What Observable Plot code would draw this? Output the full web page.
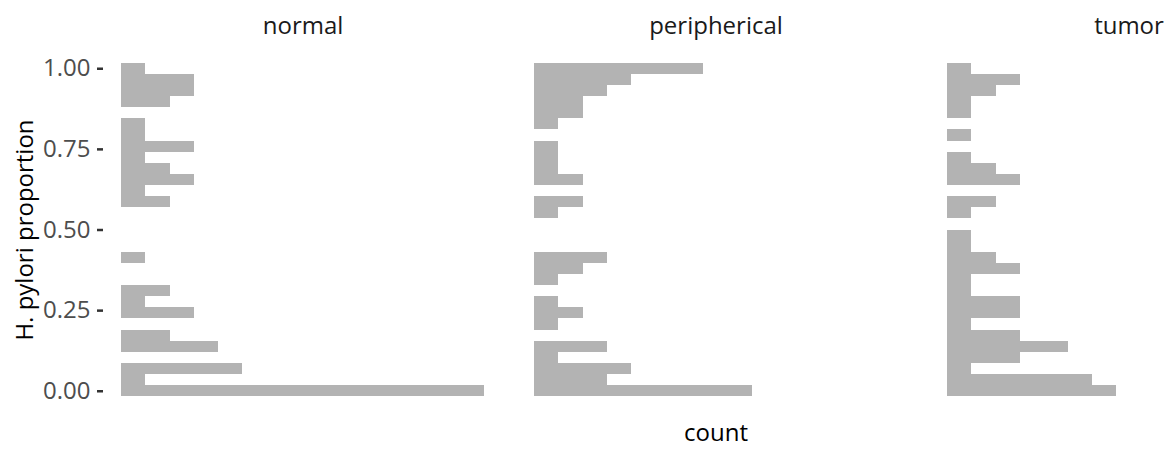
<!DOCTYPE html>
<html>
<head>
<meta charset="utf-8">
<script src="https://cdn.jsdelivr.net/npm/d3@7"></script>
<script src="https://cdn.jsdelivr.net/npm/@observablehq/plot@0.6"></script>
<style>
  html, body { margin: 0; padding: 0; background: #ffffff; overflow: hidden; }
  #wrap { position: relative; width: 1173px; height: 449px; overflow: hidden; font-family: "Open Sans", "Noto Sans", sans-serif; }
  #wrap svg { position: absolute; left: 0; top: 0; max-width: none !important; }
  #xtitle { position: absolute; left: 716px; top: 420px; transform: translateX(-50%); font-size: 24px; color: #000; line-height: 24px; white-space: nowrap; }
</style>
</head>
<body>
<div id="wrap"><div id="xtitle">count</div></div>
<script>
// Facet groups
const groups = ["normal", "peripherical", "tumor"];
// Histogram: 30 bins centred on 0, 1/29, 2/29, ... 1
const binCount = 30;
const binWidth = 1 / 29;
// Counts per bin (bottom to top) for each group
const normalCounts       = [15, 1, 5, 0, 4, 2, 0, 3, 1, 2, 0, 0, 1, 0, 0, 0, 0, 2, 1, 3, 2, 1, 3, 1, 1, 0, 2, 3, 3, 1];
const periphericalCounts = [ 9, 3, 4, 1, 3, 0, 1, 2, 1, 0, 1, 2, 3, 0, 0, 0, 1, 2, 0, 2, 1, 1, 1, 0, 1, 2, 2, 3, 4, 7];
const tumorCounts        = [ 7, 6, 1, 3, 5, 3, 1, 3, 3, 1, 1, 3, 2, 1, 1, 0, 1, 2, 0, 3, 2, 1, 0, 1, 0, 1, 1, 2, 3, 1];
// Y axis ticks
const yTicks = [0, 0.25, 0.5, 0.75, 1];
const yTickLabels = ["0.00", "0.25", "0.50", "0.75", "1.00"];

const countsByGroup = [normalCounts, periphericalCounts, tumorCounts];
const rows = [];
groups.forEach((g, i) => {
  countsByGroup[i].forEach((c, k) => {
    if (c > 0) rows.push({group: g, lo: k * binWidth - binWidth / 2, hi: k * binWidth + binWidth / 2, count: c});
  });
});

const maxCount = d3.max(rows, d => d.count);
const yMin = -binWidth / 2, yMax = 1 + binWidth / 2;
const yPad = (yMax - yMin) * 0.05;

const chart = Plot.plot({
  width: 1329,
  height: 449,
  marginLeft: 103,
  marginRight: 0,
  marginTop: 46,
  marginBottom: 36,
  style: {fontFamily: '"Open Sans", "Noto Sans", sans-serif', background: "transparent", maxWidth: "none"},
  fx: {domain: groups, paddingInner: 0.0332, paddingOuter: 0, label: null},
  x: {domain: [-maxCount * 0.05, maxCount * 1.05], axis: null},
  y: {domain: [yMin - yPad, yMax + yPad], label: null},
  marks: [
    Plot.rectX(rows, {fx: "group", x1: () => 0, x2: "count", y1: "lo", y2: "hi", fill: "#b3b3b3", inset: 0, shapeRendering: "crispEdges"}),
    Plot.axisFx({anchor: "top", tickSize: 0, tickPadding: 13, label: null, fontSize: 24, fill: "#1a1a1a"}),
    Plot.axisY({ticks: yTicks, tickFormat: (d, i) => yTickLabels[yTicks.indexOf(d)], tickSize: 6, tickPadding: 7, strokeWidth: 2.5, stroke: "#333333", fill: "#4d4d4d", fontSize: 24, label: null}),
    Plot.axisY({ticks: [], tickSize: 0, label: "H. pylori proportion", labelAnchor: "center", labelArrow: "none", labelOffset: 88, fontSize: 24, fill: "#000000"})
  ]
});
document.getElementById("wrap").prepend(chart);
</script>
</body>
</html>
